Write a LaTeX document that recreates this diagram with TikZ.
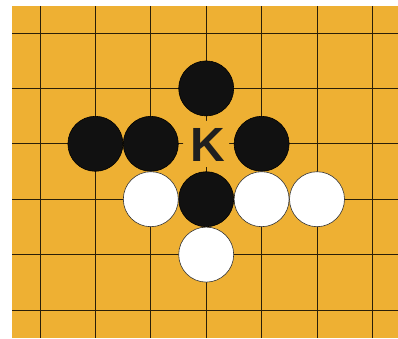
\documentclass[tikz,border=0pt]{standalone}
\usepackage{fontspec}
\setsansfont{Liberation Sans}
\usetikzlibrary{positioning}
\definecolor{goboard}{HTML}{EEB033}
\definecolor{gridline}{HTML}{2A1E08}
\definecolor{stoneblack}{HTML}{111111}
\tikzset{
  every picture/.style={line cap=butt, line join=round},
  gridln/.style={gridline, line width=1pt},
  stone/.style={circle, minimum size=55pt, inner sep=0pt, line width=0.6pt},
  bstone/.style={stone, fill=stoneblack, draw=black},
  wstone/.style={stone, fill=white, draw=black!80},
  komark/.style={font=\sffamily\bfseries\fontsize{48}{48}\selectfont, text=black!88, inner sep=0pt},
}
\begin{document}
\begin{tikzpicture}[x=1pt, y=-1pt]
  \useasboundingbox (0,0) rectangle (398,338);
  % board
  \fill[goboard] (12,6) rectangle (398,338);
  \foreach \i in {0,...,6}
    \draw[gridln] ({40+55.4*\i},6) -- ({40+55.4*\i},338);
  \foreach \j in {0,...,5}
    \draw[gridln] (12,{33+55.4*\j}) -- (398,{33+55.4*\j});
  % stones
  \node[bstone] (b1) at (206.2,88.4) {};
  \node[bstone] (b2) at (95.4,143.8) {};
  \node[bstone] (b3) at (150.8,143.8) {};
  \node[bstone] (b4) at (261.6,143.8) {};
  \node[bstone] (b5) at (206.2,199.2) {};
  \node[wstone] (w1) at (150.8,199.2) {};
  \node[wstone] (w2) at (261.6,199.2) {};
  \node[wstone] (w3) at (317,199.2) {};
  \node[wstone] (w4) at (206.2,254.6) {};
  % ko point
  \fill[goboard] (206.2,143.8) circle (23pt);
  \node[komark] (ko) at (207.5,144.5) {K};
\end{tikzpicture}
\end{document}
